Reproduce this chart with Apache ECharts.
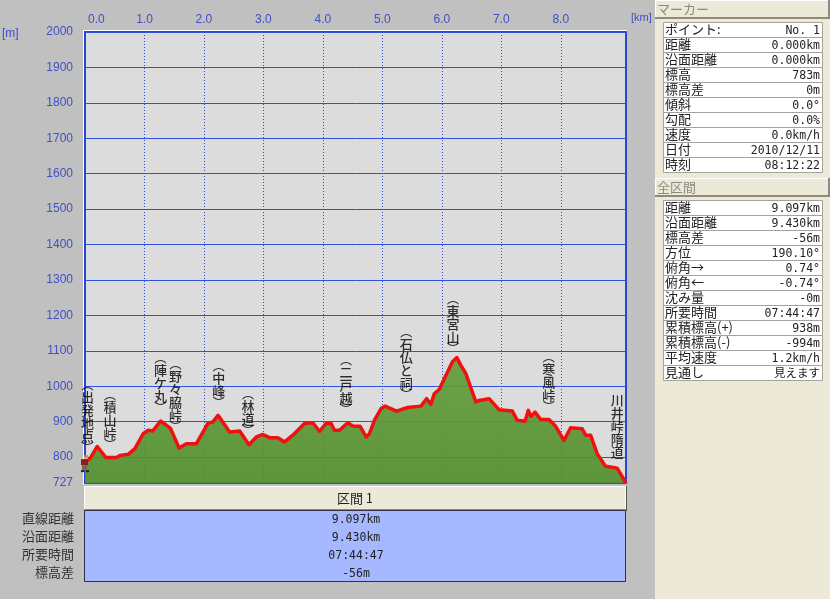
<!DOCTYPE html>
<html>
<head>
<meta charset="utf-8">
<style>
html, body { margin: 0; padding: 0; background: #c0c0c0; }
#main { width: 830px; height: 599px; }
</style>
<script src="https://cdn.jsdelivr.net/npm/echarts@6/dist/echarts.min.js"></script>
</head>
<body>
<div id="main"></div>
<script>
// 断面図のデータ (距離km / 標高m)
var distKm = [0, 0.084, 0.206, 0.352, 0.532, 0.587, 0.727, 0.839, 0.978, 1.062, 1.141, 1.27, 1.371, 1.438, 1.582, 1.706, 1.874, 2.069, 2.148, 2.237, 2.433, 2.601, 2.757, 2.881, 2.992, 3.104, 3.243, 3.356, 3.495, 3.691, 3.831, 3.943, 4.055, 4.139, 4.195, 4.279, 4.418, 4.502, 4.626, 4.727, 4.782, 4.866, 4.978, 5.045, 5.24, 5.424, 5.649, 5.743, 5.817, 5.872, 5.956, 6.096, 6.179, 6.253, 6.32, 6.404, 6.572, 6.627, 6.795, 6.963, 7.186, 7.27, 7.399, 7.455, 7.5, 7.567, 7.663, 7.802, 7.914, 8.054, 8.166, 8.361, 8.418, 8.502, 8.612, 8.753, 8.948, 9.097];
var elevM = [785, 796, 830, 799, 799, 805, 808, 824, 866, 876, 874, 902, 890, 881, 826, 838, 838, 896, 899, 918, 871, 874, 835, 857, 864, 855, 855, 843, 862, 895, 897, 873, 895, 895, 876, 876, 897, 888, 887, 857, 866, 904, 937, 944, 930, 940, 944, 965, 949, 979, 991, 1040, 1069, 1081, 1059, 1036, 956, 960, 965, 934, 930, 904, 901, 932, 915, 927, 906, 906, 887, 847, 883, 880, 862, 862, 810, 774, 769, 727];

var xTicks = [0, 1, 2, 3, 4, 5, 6, 7, 8];
var yTicks = [727, 800, 900, 1000, 1100, 1200, 1300, 1400, 1500, 1600, 1700, 1800, 1900, 2000];

// ポイント名 (文字の下端の位置)
var pointNames = ['︵出発地点︶', '︵積山峠︶', '︵陣ケ丸︶', '︵野々脇峠︶', '︵中峰︶', '︵林道︶', '︵二戸越︶', '︵石仏と祠︶', '︵東宮山︶', '︵寒風峠︶', '川井峠隋道'];
var pointKm = [0.04, 0.42, 1.27, 1.52, 2.25, 2.74, 4.39, 5.40, 6.19, 7.80, 8.95];
var pointM = [813, 822, 926, 873, 940, 861, 921, 963, 1093, 929, 797];
var startM = 783;

var sectionTitle = '区間 1';
var sectionLabels = ['直線距離', '沿面距離', '所要時間', '標高差'];
var sectionValues = ['9.097km', '9.430km', '07:44:47', '-56m'];

var markerLabels = ['ポイント:', '距離', '沿面距離', '標高', '標高差', '傾斜', '勾配', '速度', '日付', '時刻'];
var markerValues = ['No. 1', '0.000km', '0.000km', '783m', '0m', '0.0°', '0.0%', '0.0km/h', '2010/12/11', '08:12:22'];
var totalLabels = ['距離', '沿面距離', '標高差', '方位', '俯角→', '俯角←', '沈み量', '所要時間', '累積標高(+)', '累積標高(-)', '平均速度', '見通し'];
var totalValues = ['9.097km', '9.430km', '-56m', '190.10°', '0.74°', '-0.74°', '-0m', '07:44:47', '938m', '-994m', '1.2km/h', '見えます'];

var profile = [];
for (var i = 0; i < distKm.length; i++) {
    profile.push([distKm[i], elevM[i]]);
}
var points = [];
for (i = 0; i < pointKm.length; i++) {
    points.push({ value: [pointKm[i], pointM[i]], name: pointNames[i] });
}

var CJK = '"Noto Sans CJK JP", sans-serif';
var MONO = '"DejaVu Sans Mono", "Noto Sans CJK JP", monospace';
var LATIN = '"Liberation Sans", sans-serif';
var BLUE_TEXT = '#3f50c4';

function box(x, y, w, h, fill, stroke) {
    return {
        type: 'rect',
        shape: { x: x, y: y, width: w, height: h },
        style: { fill: fill, stroke: stroke || null, lineWidth: stroke ? 1 : 0 }
    };
}
function text(str, x, y, font, color, align) {
    return {
        type: 'text',
        x: x,
        y: y,
        style: { text: str, font: font, fill: color, align: align || 'left', verticalAlign: 'middle' }
    };
}

var shapes = [];
// 右パネル
shapes.push(box(655, 0, 175, 599, '#ece9d8'));

function panelHeader(title, y) {
    shapes.push(box(655, y, 175, 18, '#ece9d8'));
    shapes.push(box(655, y, 175, 1, '#ffffff'));
    shapes.push(box(655, y, 1, 18, '#ffffff'));
    shapes.push(box(655, y + 17, 175, 2, '#8e8b7c'));
    shapes.push(box(828, y, 2, 18, '#8e8b7c'));
    shapes.push(text(title, 657, y + 9, '13px ' + CJK, '#8a8a80'));
}
function panelTable(labels, values, y) {
    for (var r = 0; r < labels.length; r++) {
        shapes.push(box(663.5, y + 0.5 + r * 15, 159, 15, '#ffffff', '#a5a299'));
        shapes.push(text(labels[r], 665, y + 7 + r * 15, '13px ' + CJK, '#222222'));
        shapes.push(text(values[r], 820, y + 9.5 + r * 15, '11.5px ' + MONO, '#222222', 'right'));
    }
}
panelHeader('マーカー', 0);
panelTable(markerLabels, markerValues, 22);
panelHeader('全区間', 178);
panelTable(totalLabels, totalValues, 200);

// 区間の表
shapes.push(box(84.5, 486.5, 541, 24, '#ece9d8', '#ffffff'));
shapes.push(box(84, 509, 542, 2, '#8e8b7c'));
shapes.push(box(626, 486, 1, 25, '#55554f'));
shapes.push(text(sectionTitle, 355, 498, '13px ' + CJK, '#222222', 'center'));
shapes.push(box(84.5, 510.5, 541, 71, '#a6b8ff', '#30304a'));
for (i = 0; i < sectionLabels.length; i++) {
    shapes.push(text(sectionLabels[i], 74, 518 + i * 18, '13px ' + CJK, '#333333', 'right'));
    shapes.push(text(sectionValues[i], 356, 520 + i * 18, '11.5px ' + MONO, '#222222', 'center'));
}
// 単位
shapes.push(text('[m]', 2, 34, '12px ' + LATIN, BLUE_TEXT));
shapes.push(text('[km]', 631, 18, '11px ' + LATIN, BLUE_TEXT));
// プロットの左上の白線
shapes.push(box(83, 30, 544, 1, '#ffffff'));
shapes.push(box(83, 30, 1, 455, '#ffffff'));

var myChart = echarts.init(document.getElementById('main'), null, { renderer: 'canvas' });

var option = {
    animation: false,
    backgroundColor: 'transparent',
    grid: {
        left: 85,
        right: 204,
        top: 32,
        height: 451,
        show: true,
        backgroundColor: '#dcdcdc',
        borderColor: '#2a46d0',
        borderWidth: 2,
        containLabel: false
    },
    xAxis: {
        type: 'value',
        position: 'top',
        min: 0,
        max: 9.097,
        axisLine: { show: false },
        axisTick: { show: false, customValues: xTicks },
        axisLabel: {
            customValues: xTicks,
            margin: 6,
            alignMinLabel: 'left',
            color: BLUE_TEXT,
            fontFamily: 'Liberation Sans',
            fontSize: 12,
            formatter: function (v) {
                return v === 0 ? '{first|0.0}' : v.toFixed(1);
            },
            rich: {
                first: { padding: [0, 0, 0, 3], color: BLUE_TEXT, fontFamily: 'Liberation Sans', fontSize: 12 }
            }
        },
        splitLine: {
            show: true,
            lineStyle: { color: '#2a46d8', width: 1, type: [1, 2] }
        }
    },
    yAxis: {
        type: 'value',
        min: 727,
        max: 2000,
        axisLine: { show: false },
        axisTick: { show: false, customValues: yTicks },
        axisLabel: {
            customValues: yTicks,
            margin: 12,
            padding: [2, 0, 0, 0],
            color: BLUE_TEXT,
            fontFamily: 'Liberation Sans',
            fontSize: 12,
            formatter: function (v) {
                return String(v);
            }
        },
        splitLine: {
            show: true,
            lineStyle: { color: '#2f52dc', width: 1, type: 'solid' }
        }
    },
    series: [
        {
            type: 'line',
            data: profile,
            symbol: 'none',
            smooth: false,
            lineStyle: { color: '#f01010', width: 3.5, join: 'round' },
            areaStyle: {
                opacity: 0.92,
                color: new echarts.graphic.LinearGradient(0, 0, 0, 1, [
                    { offset: 0, color: '#649d3b' },
                    { offset: 1, color: '#528f2e' }
                ])
            },
            z: 3
        },
        {
            type: 'scatter',
            data: points,
            symbolSize: 0,
            z: 4,
            label: {
                show: true,
                position: 'top',
                distance: 0,
                color: '#000000',
                formatter: function (p) {
                    return p.name.split('').map(function (ch) {
                        return (ch === '︵' || ch === '︶' ? '{p|' : '{c|') + ch + '}';
                    }).join('\n');
                },
                rich: {
                    c: { fontFamily: 'Noto Sans CJK JP', fontWeight: 500, fontSize: 13, lineHeight: 13, color: '#000000' },
                    p: { fontFamily: 'Noto Sans CJK JP', fontWeight: 500, fontSize: 12, lineHeight: 10, color: '#000000' }
                }
            }
        },
        {
            // スタート地点の人
            type: 'custom',
            data: [[distKm[0], startM]],
            z: 5,
            renderItem: function (params, api) {
                var c = api.coord([api.value(0), api.value(1)]);
                var parts = [
                    [-1, -8, 4, 2, '#c98a4a'],
                    [-1, -6, 4, 2, '#e0b080'],
                    [-4, -4, 7, 6, '#8a1c2a'],
                    [-3, 2, 5, 5, '#7a6a4a'],
                    [-4, 7, 3, 2, '#222222'],
                    [1, 7, 3, 2, '#222222']
                ];
                var kids = [];
                for (var k = 0; k < parts.length; k++) {
                    kids.push({
                        type: 'rect',
                        shape: { x: c[0] + parts[k][0], y: c[1] + parts[k][1], width: parts[k][2], height: parts[k][3] },
                        style: { fill: parts[k][4] }
                    });
                }
                return { type: 'group', children: kids };
            }
        }
    ],
    graphic: { elements: shapes }
};
myChart.setOption(option);
</script>
</body>
</html>
